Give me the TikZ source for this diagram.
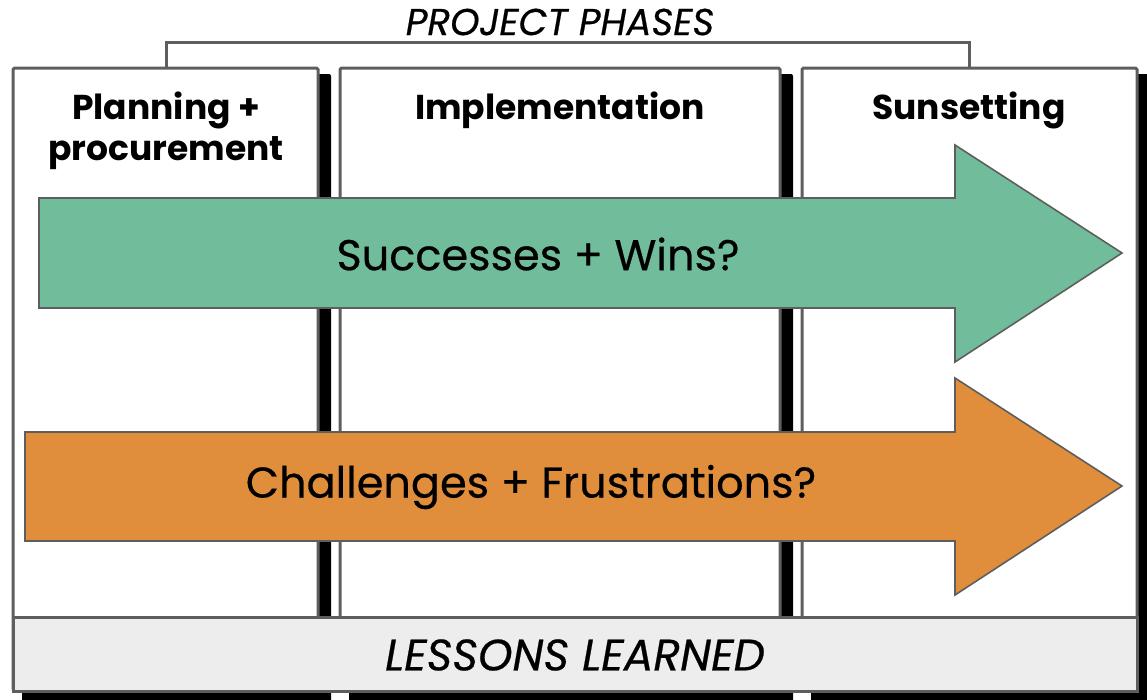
\documentclass[tikz,border=0pt]{standalone}
\usepackage{fontspec}
\setmainfont{Poppins}
\newfontfamily\popmed{Poppins}[FakeBold=0.5]
\definecolor{edgegray}{HTML}{5E5E5E}
\definecolor{wingreen}{HTML}{71BD9B}
\definecolor{chalorange}{HTML}{E08D3C}
\definecolor{lessonfill}{HTML}{EDEDED}
\tikzset{
  phasebox/.style={draw=edgegray, line width=3pt, fill=white, rounded corners=1.5pt},
  phaseshadow/.style={fill=black, rounded corners=2pt},
  bigarrow/.style={draw=edgegray, line width=1.6pt, line join=miter},
  headtxt/.style={font=\fontsize{34.5}{41}\selectfont\bfseries, align=center, inner sep=0pt},
  arrowtxt/.style={font=\popmed\fontsize{43}{50}\selectfont, inner sep=0pt},
  captxt/.style={font=\popmed\fontsize{37.4}{44}\selectfont\itshape, inner sep=0pt},
}
\begin{document}
\begin{tikzpicture}[x=1pt,y=-1pt]
\useasboundingbox (0,0) rectangle (1147,699);
% bracket
\coordinate (bl) at (166,68);
\coordinate (br) at (969,68);
\draw[edgegray, line width=3pt] (bl) -- (166,42) -- (969,42) -- (br);
\node[captxt] (phases) at (560,22) {PROJECT PHASES};
% shadows
\fill[phaseshadow] (22,74) rectangle (331,702);
\fill[phaseshadow] (349,74) rectangle (793,702);
\fill[phaseshadow] (811,74) rectangle (1152,702);
% columns
\draw[phasebox] (13,68) rectangle (318,690);
\draw[phasebox] (340,68) rectangle (780,690);
\draw[phasebox] (802,68) rectangle (1137,690);
\node[headtxt] (h1) at (166,131) {Planning +\\procurement};
\node[headtxt] (h2) at (560,110) {Implementation};
\node[headtxt] (h3) at (969,110) {Sunsetting};
% arrows
\draw[bigarrow, fill=wingreen] (39,198) -- (955,198) -- (955,145) -- (1122,253) -- (955,362) -- (955,308) -- (39,308) -- cycle;
\node[arrowtxt] (wins) at (538,254) {Successes + Wins?};
\draw[bigarrow, fill=chalorange] (25,432) -- (955,432) -- (955,378) -- (1122,486) -- (955,595) -- (955,541) -- (25,541) -- cycle;
\node[arrowtxt] (chal) at (531,487) {Challenges + Frustrations?};
% lessons bar
\draw[draw=edgegray, line width=3pt, fill=lessonfill] (13,617) rectangle (1137,691);
\node[captxt, font=\popmed\fontsize{44}{50}\selectfont\itshape] (lessons) at (575,655) {LESSONS LEARNED};
\end{tikzpicture}
\end{document}
